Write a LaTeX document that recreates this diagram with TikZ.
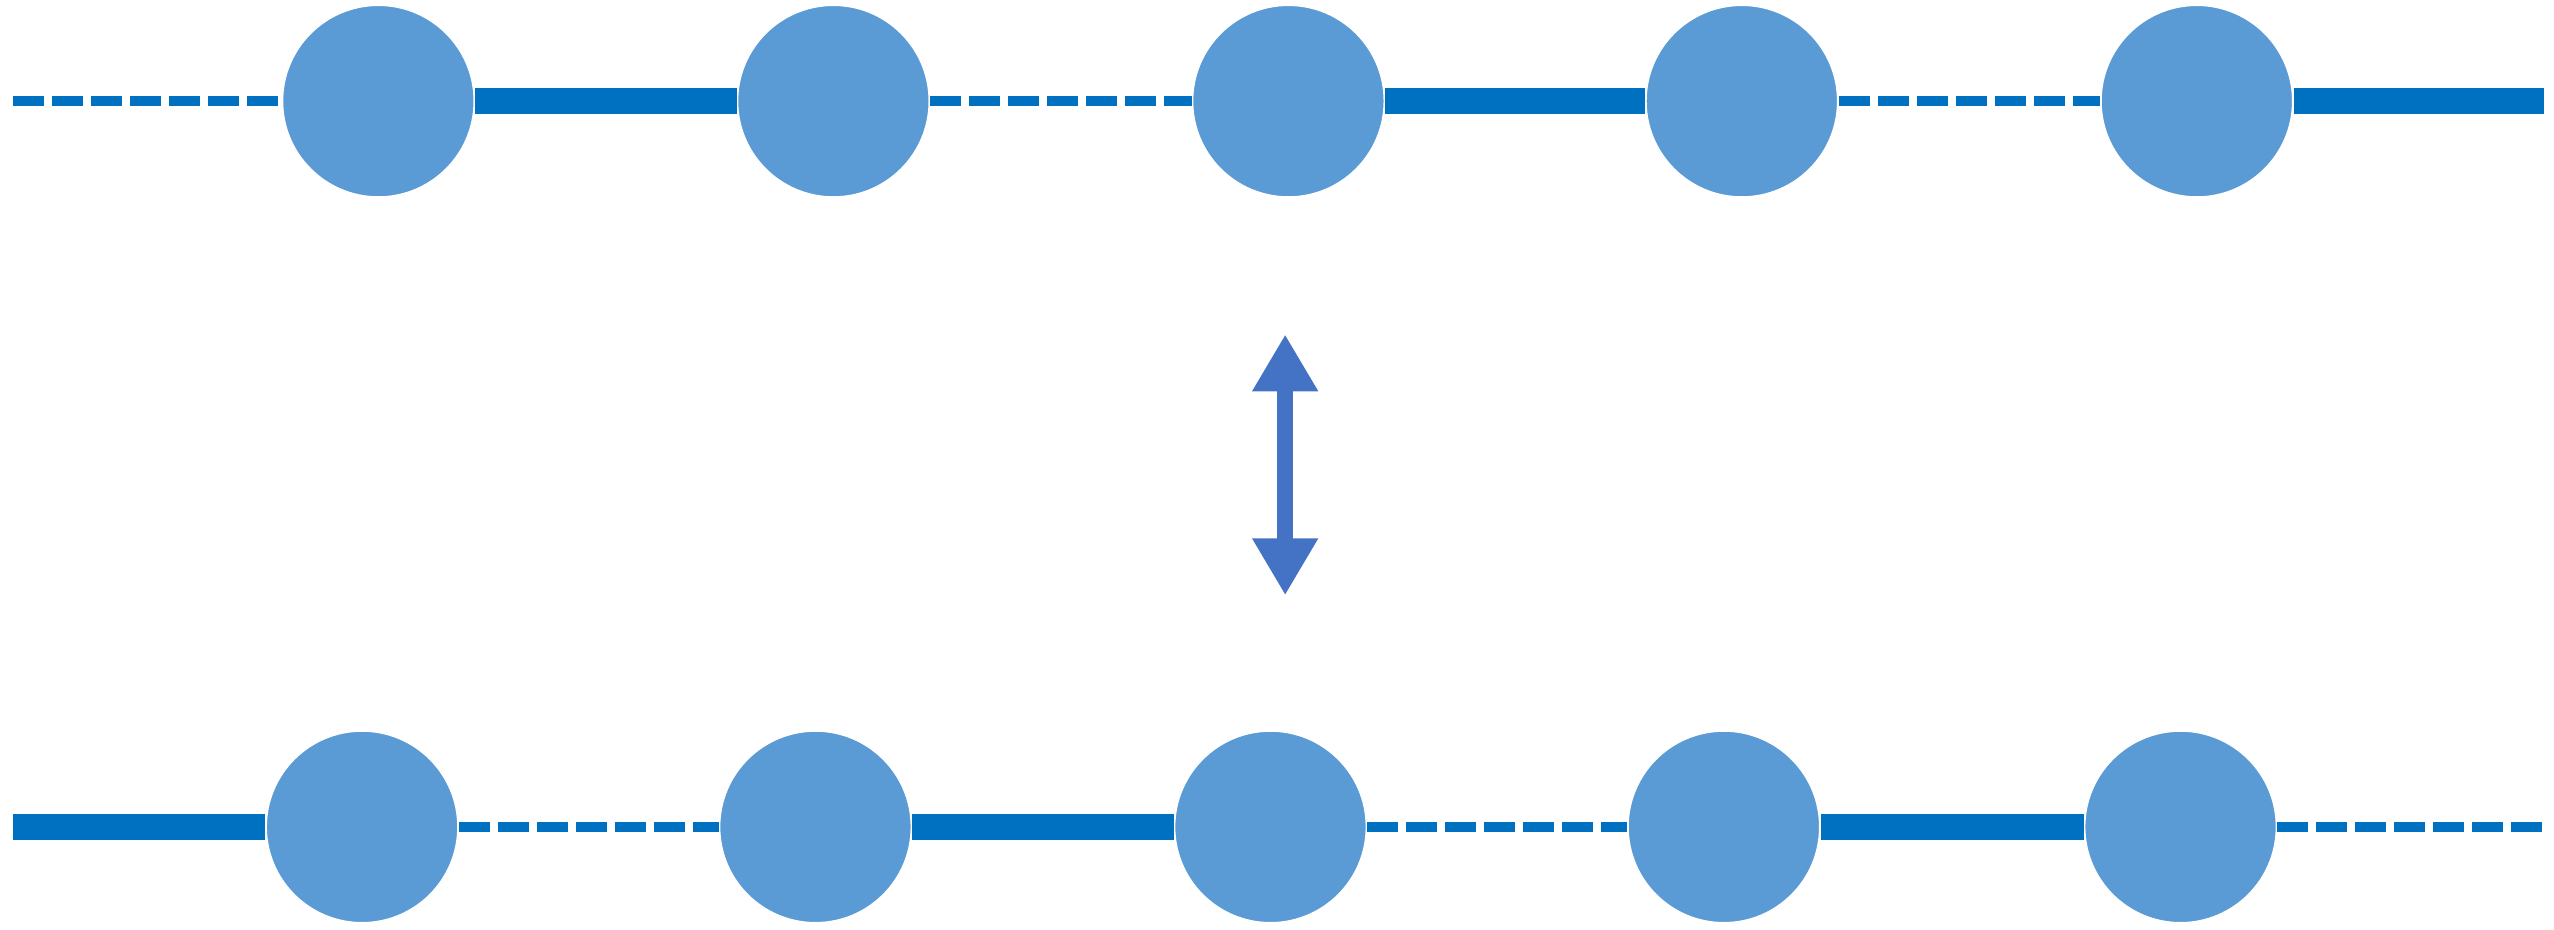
\documentclass[tikz,border=0pt]{standalone}
\usetikzlibrary{arrows.meta}
\definecolor{ballblue}{HTML}{5B9BD5}
\definecolor{bondblue}{HTML}{0070C0}
\definecolor{arrowblue}{HTML}{4472C4}
\tikzset{
  site/.style={circle, fill=ballblue, draw=white, line width=0.5pt, minimum size=1.92cm, inner sep=0pt},
  strong/.style={draw=bondblue, line width=0.265cm},
  weak/.style={draw=bondblue, line width=0.095cm, dash pattern=on 0.31cm off 0.08cm},
}
\begin{document}
\begin{tikzpicture}[x=0.01631cm, y=-0.01631cm]
   \useasboundingbox (0,0) rectangle (1566,570);
   % top chain
   \node[site] (a1) at (232,62)  {};
   \node[site] (a2) at (511,62)  {};
   \node[site] (a3) at (790,62)  {};
   \node[site] (a4) at (1068,62) {};
   \node[site] (a5) at (1347,62) {};
   \coordinate (aL) at (8,62);
   \coordinate (aR) at (1560,62);
   % bottom chain
   \node[site] (b1) at (222,507)  {};
   \node[site] (b2) at (500,507)  {};
   \node[site] (b3) at (779,507)  {};
   \node[site] (b4) at (1057,507) {};
   \node[site] (b5) at (1337,507) {};
   \coordinate (bL) at (8,507);
   \coordinate (bR) at (1560,507);
   % arrow ends
   \coordinate (up) at (788,205);
   \coordinate (dn) at (788,365);

   \path[weak]   (aL) -- (a1)  (a2) -- (a3)  (a4) -- (a5);
   \path[strong] (a1) -- (a2)  (a3) -- (a4)  (a5) -- (aR);
   \path[strong] (bL) -- (b1)  (b2) -- (b3)  (b4) -- (b5);
   \path[weak]   (b1) -- (b2)  (b3) -- (b4)  (b5) -- (bR);

   \draw[arrowblue, line width=0.163cm,
         {Triangle[length=0.57cm,width=0.62cm]}-{Triangle[length=0.57cm,width=0.62cm]}]
     (up) -- (dn);
\end{tikzpicture}
\end{document}
